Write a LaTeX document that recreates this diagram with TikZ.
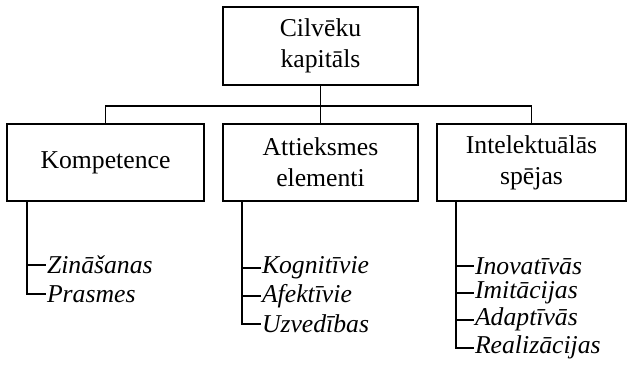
\documentclass[tikz,border=0pt]{standalone}
\usepackage{fontspec}
\setmainfont{Liberation Serif}
\usepackage{tikz}
\usetikzlibrary{positioning}

\begin{document}
\begin{tikzpicture}[box/.style={draw, line width=1.6pt, align=center, inner sep=0pt, minimum height=77pt, font=\fontsize{25.7pt}{31pt}\selectfont},
	item/.style={inner sep=0pt, anchor=west, font=\fontsize{25.7pt}{31pt}\selectfont\itshape},
	node distance=1cm, on grid, line width=1.6pt]
		\useasboundingbox (0,0) rectangle (627pt,-365pt);
		\node[box, minimum width=195pt, minimum height=78pt] (c0) at (320.5pt,-46pt) {Cilvēku\\kapitāls};
		\node[box, minimum width=195pt] (c2) [below=116.5pt of c0] {Attieksmes\\elementi};
		\node[box, minimum width=197pt] (c1) [left=215pt of c2] {Kompetence};
		\node[box, minimum width=189pt] (c3) [right=211pt of c2] {Intelektuālās\\spējas};
		\coordinate (h) at (0,-106pt);
		% elementi
		\node[item] (k1) at ([xshift=40pt,yshift=-63pt]c1.south west) {Zināšanas};
		\node[item] (k2) [below=29pt of k1.west, anchor=west] {Prasmes};
		\node[item] (a1) at ([xshift=39pt,yshift=-66pt]c2.south west) {Kognitīvie};
		\node[item] (a2) [below=28pt of a1.west, anchor=west] {Afektīvie};
		\node[item] (a3) [below=28pt of a2.west, anchor=west] {Uzvedības};
		\node[item] (i1) at ([xshift=38pt,yshift=-64pt]c3.south west) {Inovatīvās};
		\node[item] (i2) [below=27pt of i1.west, anchor=west] {Imitācijas};
		\node[item] (i3) [below=27pt of i2.west, anchor=west] {Adaptīvās};
		\node[item] (i4) [below=28pt of i3.west, anchor=west] {Realizācijas};
		\draw (c0.south) -- (c0.south |- h);
		\draw (c1.north) |- (c0.south |- h) -| (c3.north);
		\draw (c2.north) -- (c0.south |- h);
		\draw ([xshift=21pt]c1.south west) |- (k2.west);
		\draw ([xshift=21pt]c1.south west) |- (k1.west);
		\draw ([xshift=20pt]c2.south west) |- (a3.west);
		\draw ([xshift=20pt]c2.south west) |- (a2.west);
		\draw ([xshift=20pt]c2.south west) |- (a1.west);
		\draw ([xshift=20pt]c3.south west) |- (i4.west);
		\draw ([xshift=20pt]c3.south west) |- (i3.west);
		\draw ([xshift=20pt]c3.south west) |- (i2.west);
		\draw ([xshift=20pt]c3.south west) |- (i1.west);
	\end{tikzpicture}
\end{document}
